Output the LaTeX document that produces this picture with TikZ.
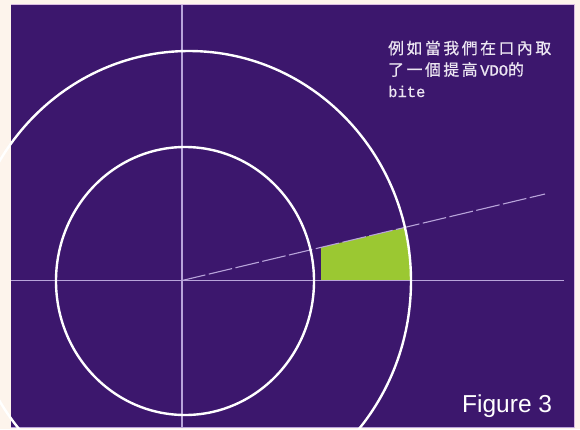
\documentclass[tikz,border=0pt]{standalone}
\usepackage{fontspec}
\usetikzlibrary{calc}
\setmainfont{Liberation Sans}
\newfontfamily\cjkfont[FakeBold=0.6]{Noto Sans CJK TC}
\newfontfamily\monofont[FakeBold=0.8]{Liberation Mono}
\definecolor{bgcream}{HTML}{FDF4EC}
\definecolor{bgpurple}{HTML}{3C176D}
\definecolor{edgepink}{HTML}{D9BCE0}
\definecolor{axiscol}{HTML}{B8A4DA}
\definecolor{bitegreen}{HTML}{9BC832}
\definecolor{textcol}{HTML}{ECE6F2}
\def\cjkspaced#1{\ifx#1\relax\else\makebox[18.4pt][l]{#1}\expandafter\cjkspaced\fi}
\tikzset{
  axisline/.style={draw=axiscol, line width=1.1pt},
  rayline/.style={draw=axiscol, line width=1.1pt, dash pattern=on 24pt off 3.5pt},
  ring/.style={draw=white, line width=2.4pt},
  note/.style={text=textcol, anchor=base west, inner sep=0pt, font=\cjkfont\fontsize{15.8}{17}\selectfont},
  figlabel/.style={text=white, anchor=base west, inner sep=0pt, font=\fontsize{24.5}{28}\selectfont}
}
\begin{document}
\begin{tikzpicture}[x=1pt,y=-1pt]
  \useasboundingbox (0,0) rectangle (580,429);
  \fill[bgcream] (0,0) rectangle (580,429);
  \fill[bgpurple] (11,4) rectangle (575,428);
  \draw[edgepink, line width=0.8pt] (11,4.4) -- (575,4.4);
  \draw[axiscol, line width=0.8pt] (11,427.6) -- (575,427.6);
  \draw[edgepink, line width=0.6pt] (574.7,4) -- (574.7,428);
  % centre and axes ends
  \coordinate (c) at (182,280.5);
  \coordinate (vtop) at (182,5);
  \coordinate (vbot) at (182,428);
  \coordinate (hleft) at (11,280.5);
  \coordinate (hright) at (564,280.5);
  \coordinate (rayend) at (545,194);
  % bite region
  \begin{scope}
    \clip (189,281) ellipse [x radius=222, y radius=230];
    \fill[bitegreen] (321,280.5) -- ($(c)!0.3829!(rayend)$) -- ($(c)!0.70!(rayend)$) -- (440,280.5) -- cycle;
  \end{scope}
  \draw[axisline] (vtop) -- (vbot);
  \draw[axisline] (hleft) -- (hright);
  \draw[rayline] (c) -- (rayend);
  \draw[ring] (185,281) ellipse [x radius=129, y radius=134];
  \draw[ring] (189,281) ellipse [x radius=222, y radius=230];
  \node[note] (l1) at (388,54) {\cjkspaced 例如當我們在口內取\relax};
  \node[note] (l2) at (388,75.5) {\cjkspaced 了一個提高\relax{\monofont\fontsize{15.5}{17}\selectfont VDO}\cjkspaced 的\relax};
  \node[note] (l3) at (388,97) {\monofont\fontsize{15.5}{17}\selectfont bite};
  \node[figlabel] (fig) at (462,412) {Figure 3};
\end{tikzpicture}
\end{document}
